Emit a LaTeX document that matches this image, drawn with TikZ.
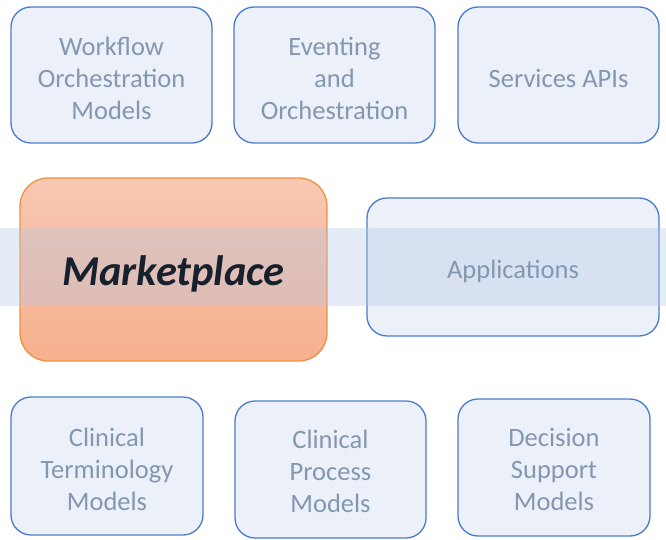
\documentclass[tikz,border=0pt]{standalone}
\usepackage{fontspec}
\setmainfont{Carlito}
\definecolor{boxfill}{HTML}{EBF0F9}
\definecolor{boxline}{HTML}{4A7CC9}
\definecolor{boxtext}{HTML}{8497B0}
\definecolor{mktop}{HTML}{F8C8B2}
\definecolor{mkbot}{HTML}{F6B08E}
\definecolor{mkline}{HTML}{F0923C}
\definecolor{mktext}{HTML}{17212E}
\definecolor{bandc}{HTML}{B4C7E7}
\tikzset{
  blbox/.style={draw=boxline, line width=1.3pt, fill=boxfill, rounded corners=20pt, inner sep=0pt},
  bltext/.style={inner sep=0pt, align=center, text=boxtext, font=\fontsize{26.5}{32}\selectfont},
  mkbox/.style={draw=mkline, line width=1.3pt, top color=mktop, bottom color=mkbot,
    rounded corners=28pt, inner sep=0pt},
  mktxt/.style={inner sep=0pt, align=center, text=mktext,
    font=\fontsize{42.5}{48}\selectfont\bfseries\itshape},
  band/.style={fill=bandc, fill opacity=0.35, draw=none, inner sep=0pt}
}
\begin{document}
\begin{tikzpicture}[x=1pt,y=-1pt]
\useasboundingbox (0,0) rectangle (666,540);
\node[blbox, minimum width=201pt, minimum height=136pt] (wf) at (111.5,75) {};
\node[blbox, minimum width=201pt, minimum height=136pt] (ev) at (334.5,75) {};
\node[blbox, minimum width=201pt, minimum height=136pt] (sa) at (558.5,75) {};
\node[mkbox, minimum width=307pt, minimum height=183pt] (mk) at (173.5,269.5) {};
\node[blbox, minimum width=292pt, minimum height=138pt] (ap) at (513,267) {};
\node[blbox, minimum width=192pt, minimum height=138pt] (ct) at (107,466) {};
\node[blbox, minimum width=191pt, minimum height=137pt] (cp) at (330.5,469.5) {};
\node[blbox, minimum width=192pt, minimum height=137pt] (ds) at (554,467.5) {};
\node[band, minimum width=666pt, minimum height=78pt] (bd) at (333,267) {};
\node[bltext] (wft) at ([yshift=-3pt]wf.center) {Workflow\\Orchestration\\Models};
\node[bltext] (evt) at ([yshift=-3pt]ev.center) {Eventing\\and\\Orchestration};
\node[bltext] (sat) at ([yshift=-3pt]sa.center) {Services APIs};
\node[mktxt] (mkt) at ([yshift=-4pt]mk.center) {Marketplace};
\node[bltext] (apt) at ([yshift=-4pt]ap.center) {Applications};
\node[bltext] (ctt) at ([yshift=-3pt]ct.center) {Clinical\\Terminology\\Models};
\node[bltext] (cpt) at ([yshift=-1.5pt]cp.center) {Clinical\\Process\\Models};
\node[bltext] (dst) at ([yshift=-1.5pt]ds.center) {Decision\\Support\\Models};
\end{tikzpicture}
\end{document}
